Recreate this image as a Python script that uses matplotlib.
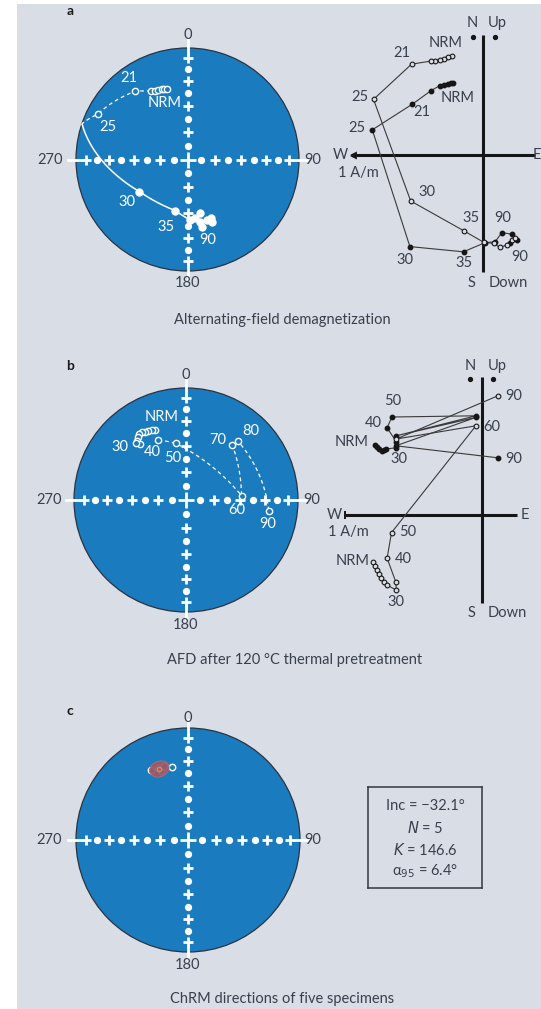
import numpy as np
import matplotlib.pyplot as plt
from matplotlib.patches import Circle, Rectangle

plt.rcParams['font.family'] = ['Lato', 'DejaVu Sans']

W, H = 541, 1009
BG = '#d9dde5'
BLUE = '#1b7bbf'
INK = '#39404d'
FS = 10.5

# ---- a: alternating-field demagnetization (dec, inc in degrees) ----
a_nrm_dec = [331.8, 334.8, 337.3, 339.9, 341.7, 343.7]
a_nrm_inc = [-30.9, -32.3, -33.0, -33.2, -33.5, -34.2]
a_step_lbl = ['21', '25', '30', '35']
a_step_dec = [322.4, 296.8, 236.3, 193.6]
a_step_inc = [-23.9, -10.7, 47.0, 51.1]
a_end_dec = [177.5, 172.5, 167.4, 168.4, 167.9, 162.2, 158.3, 158.5]
a_end_inc = [44.8, 45.9, 49.1, 42.6, 38.4, 42.5, 42.7, 39.9]

# orthogonal plot a (A/m): horizontal (E, N) and vertical (E, Up) projections
a_h_e = [-0.75, -0.80, -0.86, -0.97, -1.08, -1.29, -1.76, -2.76, -1.82, -0.48, 0.06, 0.31, 0.48, 0.73, 0.85, 0.68]
a_h_n = [1.81, 1.79, 1.78, 1.75, 1.73, 1.61, 1.27, 0.63, -2.29, -2.42, -2.19, -2.17, -1.94, -1.98, -2.13, -2.21]
a_v_e = [-0.78, -0.86, -0.97, -1.07, -1.19, -1.29, -1.78, -2.73, -1.80, -0.48, 0.02, 0.27, 0.43, 0.60, 0.73, 0.81]
a_v_up = [2.48, 2.45, 2.41, 2.38, 2.36, 2.35, 2.27, 1.39, -1.15, -1.89, -2.18, -2.21, -2.31, -2.25, -2.13, -2.08]

# ---- b: AFD after 120 C thermal pretreatment ----
b_nrm_dec = [336.2, 333.9, 331.5, 329.1, 326.8, 324.6, 322.8, 320.6, 320.6]
b_nrm_inc = [-32.1, -31.1, -30.4, -29.5, -28.7, -29.0, -30.5, -32.2, -35.6]
b_step_lbl = ['30', '40', '50', '60', '70', '80', '90']
b_step_dec = [319.0, 335.3, 349.7, 85.5, 40.0, 41.8, 97.8]
b_step_inc = [-32.5, -40.5, -47.4, -48.8, -35.9, -30.6, -26.3]

b_h_e = [-2.66, -2.61, -2.56, -2.49, -2.44, -2.39, -2.14, -2.13, -2.36, -2.24, -0.14, -2.13, -0.14, -2.14, 0.41]
b_h_n = [1.75, 1.70, 1.65, 1.60, 1.63, 1.65, 1.68, 1.83, 2.18, 2.45, 2.48, 1.98, 2.44, 1.73, 1.43]
b_v_e = [-2.71, -2.66, -2.61, -2.56, -2.51, -2.44, -2.36, -2.13, -2.14, -2.36, -2.25, -0.14, -2.13, 0.41]
b_v_up = [-1.18, -1.28, -1.38, -1.48, -1.58, -1.68, -1.75, -1.88, -1.68, -1.08, -0.44, 2.23, 1.90, 2.98]

# ---- c: ChRM directions ----
c_dec = [331.7, 337.2, 338.6, 342.1, 347.7]
c_inc = [-30.2, -31.3, -33.9, -31.4, -34.0]
c_mean_dec, c_mean_inc = 338.0, -32.1
c_n, c_k, c_a95 = 5, 146.6, 6.4


def unit(dec, inc):
    d, i = np.radians(dec), np.radians(inc)
    return np.array([np.cos(i) * np.cos(d), np.cos(i) * np.sin(d), np.sin(i)])


def proj(v):
    # equal-area (Schmidt) projection, upper hemisphere folded down
    v = np.atleast_2d(v)
    n, e, dn = v[:, 0], v[:, 1], v[:, 2]
    h = np.hypot(n, e)
    r = np.sqrt(np.clip(1 - np.abs(dn), 0, None))
    return r * e / h, r * n / h


def arc(v0, v1, n=80):
    om = np.arccos(np.clip(v0 @ v1, -1, 1))
    t = np.linspace(0, 1, n)[:, None]
    return (np.sin((1 - t) * om) * v0 + np.sin(t * om) * v1) / np.sin(om)


def draw_path(ax, decs, incs):
    vs = [unit(d, i) for d, i in zip(decs, incs)]
    pts = np.vstack([arc(a, b) for a, b in zip(vs[:-1], vs[1:])])
    up = pts[:, 2] < 0
    cuts = np.flatnonzero(np.diff(up.astype(int))) + 1
    for seg in np.split(np.arange(len(pts)), cuts):
        if seg[-1] + 1 < len(pts):
            seg = np.append(seg, seg[-1] + 1)
        x, y = proj(pts[seg])
        if up[seg[0]]:
            ax.plot(x, y, color='white', lw=0.9, ls=(0, (3, 2.5)), zorder=3)
        else:
            ax.plot(x, y, color='white', lw=1.1, zorder=3)


def plot_dirs(ax, decs, incs, ms=4.5):
    for d, i in zip(decs, incs):
        x, y = proj(unit(d, i))
        if i < 0:
            ax.plot(x, y, 'o', ms=ms, mfc=BLUE, mec='white', mew=1.0, zorder=4)
        else:
            ax.plot(x, y, 'o', ms=ms + 0.5, mfc='white', mec='white', zorder=4)


def px_axes(x0, y0, x1, y1):
    return fig.add_axes([x0 / W, 1 - y1 / H, (x1 - x0) / W, (y1 - y0) / H])


def stereonet(cx, cy, R, lbl_pos):
    ax = px_axes(cx - 130, cy - 130, cx + 130, cy + 130)
    s = 130 / R
    ax.set_xlim(-s, s)
    ax.set_ylim(-s, s)
    ax.axis('off')
    ax.add_patch(Circle((0, 0), 1, fc=BLUE, ec='#2b3340', lw=0.9, zorder=1))
    rt = np.sqrt(1 - np.sin(np.radians(np.arange(80, 0, -10))))
    for k, r in enumerate(rt):
        for sx, sy in [(1, 0), (-1, 0), (0, 1), (0, -1)]:
            if k % 2 == 0:
                ax.plot(sx * r, sy * r, 'o', ms=4.2, mfc='white', mec='white', zorder=2)
            else:
                ax.plot(sx * r, sy * r, '+', ms=6.5, mew=2.0, color='white', zorder=2)
    ax.plot(0, 0, '+', ms=11, mew=2.0, color='white', zorder=2)
    for sx, sy in [(1, 0), (-1, 0), (0, 1), (0, -1)]:
        ax.plot([sx * 0.95, sx * 1.07], [sy * 0.95, sy * 1.07], color='white', lw=2, zorder=2)
    t0, t180, t270, t90 = lbl_pos
    ax.text(0, t0, '0', ha='center', va='center', color=INK, fontsize=FS)
    ax.text(0, -t180, '180', ha='center', va='center', color=INK, fontsize=FS)
    ax.text(-t270, 0, '270', ha='right', va='center', color=INK, fontsize=FS)
    ax.text(t90, 0, '90', ha='left', va='center', color=INK, fontsize=FS)
    return ax


def zij_axes(x0, y0, x1, y1, ox, oy):
    ax = px_axes(x0, y0, x1, y1)
    ax.set_xlim((x0 - ox) / 40, (x1 - ox) / 40)
    ax.set_ylim((oy - y1) / 40, (oy - y0) / 40)
    ax.axis('off')
    return ax


def zij_frame(ax, xl, xr, yt, yb, cap, end='|', end_ms=6):
    ax.plot([xl, xr], [0, 0], color='#161616', lw=2.2, zorder=1, solid_capstyle='butt')
    ax.plot([0, 0], [yb, yt], color='#161616', lw=2.2, zorder=1, solid_capstyle='butt')
    ax.plot(xl, 0, end, ms=end_ms, mew=1.4, color='#161616')
    for txt, x, y, ha in cap:
        ax.text(x, y, txt, ha=ha, va='center', color=INK, fontsize=FS)


def zij_series(ax, he, hn, ve, vu):
    ax.plot(he, hn, '-', color='#3a3a3a', lw=0.8, zorder=2)
    ax.plot(he, hn, 'o', ms=3.2, mfc='#161616', mec='#161616', zorder=3)
    ax.plot(ve, vu, '-', color='#3a3a3a', lw=0.8, zorder=2)
    ax.plot(ve, vu, 'o', ms=3.4, mfc=BG, mec='#161616', mew=0.8, zorder=3)


fig = plt.figure(figsize=(W / 100, H / 100), dpi=100)
fig.patch.set_facecolor('white')
fig.add_artist(Rectangle((17 / W, 0), 1 - 17 / W, 1 - 4 / H, transform=fig.transFigure,
                         fc=BG, ec='none', zorder=-5))

# ================= panel a =================
ax = stereonet(187.5, 159.5, 111.5, (1.117, 1.107, 1.12, 1.045))
draw_path(ax, [a_nrm_dec[0]] + a_step_dec + [a_end_dec[0]],
          [a_nrm_inc[0]] + a_step_inc + [a_end_inc[0]])
plot_dirs(ax, a_nrm_dec, a_nrm_inc)
plot_dirs(ax, a_step_dec, a_step_inc)
plot_dirs(ax, a_end_dec, a_end_inc)
for txt, u, v in [('21', -0.525, 0.731), ('NRM', -0.202, 0.507), ('25', -0.713, 0.291),
                  ('30', -0.543, -0.381), ('35', -0.193, -0.605), ('90', 0.184, -0.722)]:
    ax.text(u, v, txt, ha='center', va='center', color='white', fontsize=FS, zorder=5)

az = zij_axes(330, 15, 541, 295, 482.7, 155)
zij_series(az, a_h_e, a_h_n, a_v_e, a_v_up)
zij_frame(az, -3.24, 1.3, 3.0, -2.93,
          [('N', -0.27, 3.3, 'center'), ('Up', 0.36, 3.3, 'center'),
           ('S', -0.27, -3.2, 'center'), ('Down', 0.63, -3.2, 'center'),
           ('W', -3.36, 0, 'right'), ('1 A/m', -3.12, -0.45, 'center'), ('E', 1.45, 0, 'right')],
          end='<', end_ms=3.5)
az.plot([-0.24, 0.31], [2.95, 2.95], 'o', ms=2.8, color='#161616', ls='none')
for txt, x, y in [('NRM', -0.92, 2.80), ('21', -2.02, 2.55), ('25', -3.07, 1.45),
                  ('NRM', -0.62, 1.43), ('21', -1.52, 1.08), ('25', -3.14, 0.68),
                  ('30', -1.39, -0.93), ('35', -0.29, -1.58), ('90', 0.51, -1.58),
                  ('30', -1.94, -2.63), ('35', -0.47, -2.70), ('90', 0.93, -2.55)]:
    az.text(x, y, txt, ha='center', va='center', color=INK, fontsize=FS)

# ================= panel b =================
ax = stereonet(186, 500, 112, (1.116, 1.116, 1.11, 1.045))
draw_path(ax, b_step_dec[1:], b_step_inc[1:])
plot_dirs(ax, b_nrm_dec, b_nrm_inc)
plot_dirs(ax, b_step_dec, b_step_inc)
for txt, u, v in [('NRM', -0.214, 0.741), ('30', -0.589, 0.473), ('40', -0.304, 0.429),
                  ('50', -0.116, 0.375), ('70', 0.286, 0.536), ('80', 0.580, 0.616),
                  ('60', 0.455, -0.089), ('90', 0.732, -0.214)]:
    ax.text(u, v, txt, ha='center', va='center', color='white', fontsize=FS, zorder=5)

az = zij_axes(300, 355, 541, 625, 481.5, 515)
zij_series(az, b_h_e, b_h_n, b_v_e, b_v_up)
zij_frame(az, -3.41, 0.89, 3.45, -2.2,
          [('N', -0.29, 3.72, 'center'), ('Up', 0.39, 3.72, 'center'),
           ('S', -0.24, -2.45, 'center'), ('Down', 0.64, -2.45, 'center'),
           ('W', -3.5, 0, 'right'), ('1 A/m', -3.34, -0.42, 'center'), ('E', 1.09, 0, 'center')])
az.plot([-0.29, 0.29], [3.40, 3.40], 'o', ms=2.8, color='#161616', ls='none')
for txt, x, y in [('50', -2.21, 2.85), ('40', -2.71, 2.30), ('NRM', -3.24, 1.83),
                  ('30', -2.06, 1.40), ('90', 0.81, 2.98), ('60', 0.26, 2.20),
                  ('90', 0.81, 1.40), ('50', -1.84, -0.43), ('40', -1.96, -1.10),
                  ('NRM', -3.21, -1.15), ('30', -2.14, -2.18)]:
    az.text(x, y, txt, ha='center', va='center', color=INK, fontsize=FS)

# ================= panel c =================
ax = stereonet(188, 840, 112, (1.09, 1.116, 1.125, 1.04))
m = unit(c_mean_dec, c_mean_inc)
e1 = np.cross(m, [0, 0, 1.0])
e1 /= np.linalg.norm(e1)
e2 = np.cross(m, e1)
a = np.radians(c_a95)
phi = np.linspace(0, 2 * np.pi, 120)[:, None]
cone = np.cos(a) * m + np.sin(a) * (np.cos(phi) * e1 + np.sin(phi) * e2)
cx, cy = proj(cone)
plot_dirs(ax, c_dec, c_inc, ms=4.6)
ax.fill(cx, cy, fc='#9a5a66', ec='#b07080', lw=0.6, alpha=0.95, zorder=5)
mx, my = proj(m)
ax.plot(mx, my, 'o', ms=3.2, mfc='none', mec='#e08a50', mew=0.9, zorder=6)

bx = px_axes(368, 787, 482, 888)
bx.set_xticks([])
bx.set_yticks([])
bx.set_facecolor('none')
for sp in bx.spines.values():
    sp.set_color('#33383f')
    sp.set_linewidth(1.1)
for txt, y in [('Inc = \u221232.1\u00b0', 0.81), ('$N$ = %d' % c_n, 0.595),
               ('$K$ = %.1f' % c_k, 0.375), ('\u03b1$_{95}$ = %.1f\u00b0' % c_a95, 0.165)]:
    bx.text(0.5, y, txt, ha='center', va='center', color=INK, fontsize=FS,
            transform=bx.transAxes)

# captions and panel letters
for txt, x, y in [('Alternating-field demagnetization', 282, 320),
                  ('AFD after 120 \u00b0C thermal pretreatment', 295, 660),
                  ('ChRM directions of five specimens', 282, 999)]:
    fig.text(x / W, 1 - y / H, txt, ha='center', va='center', color=INK, fontsize=FS)
for txt, y in [('a', 11), ('b', 366), ('c', 711)]:
    fig.text(70 / W, 1 - y / H, txt, ha='center', va='center', color='#1a1a1a',
             fontsize=10, fontweight='bold')

fig.savefig('out.png', dpi=100)
